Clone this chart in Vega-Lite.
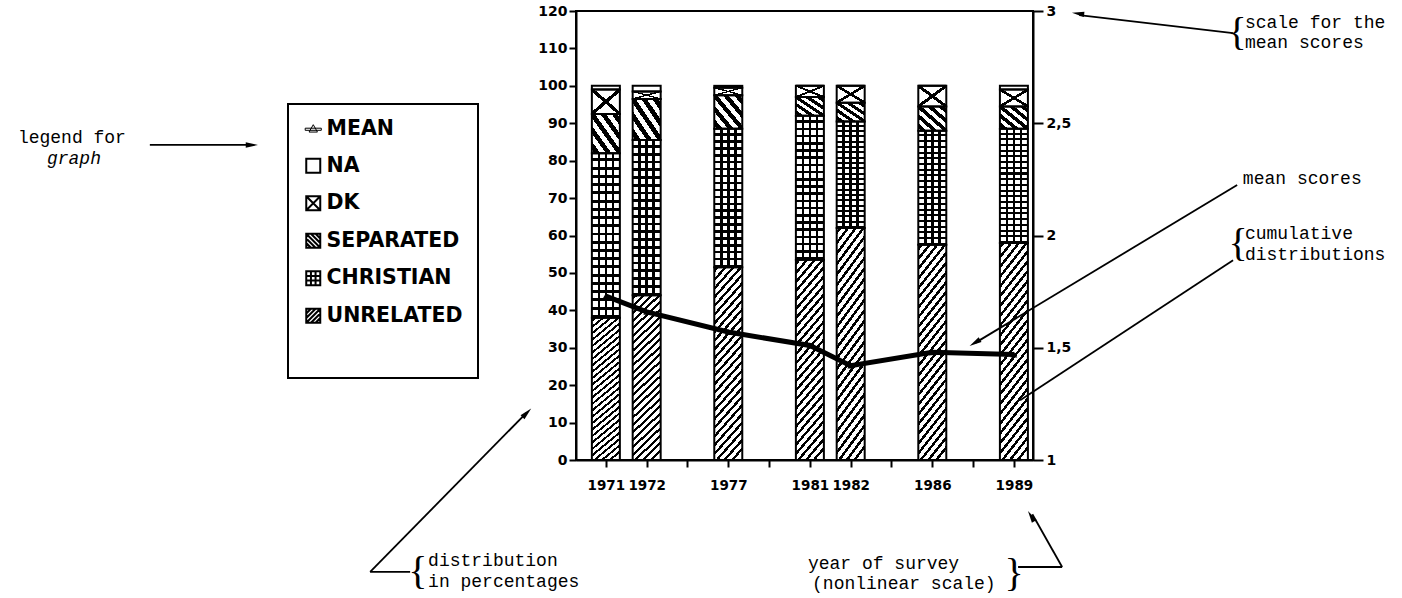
{
  "$schema": "https://vega.github.io/schema/vega-lite/v6.json",
  "width": 457,
  "height": 449,
  "autosize": {"type": "none"},
  "padding": {"left": 576, "top": 11, "right": 369, "bottom": 138},
  "background": "white",
  "config": {"view": {"stroke": "black", "strokeWidth": 2}},
  "datasets": {
    "survey": [
      {"year": "1971", "category": "UNRELATED", "pct": 38},
      {"year": "1971", "category": "CHRISTIAN", "pct": 44},
      {"year": "1971", "category": "SEPARATED", "pct": 10.5},
      {"year": "1971", "category": "DK", "pct": 6.5},
      {"year": "1971", "category": "NA", "pct": 1},
      {"year": "1972", "category": "UNRELATED", "pct": 44},
      {"year": "1972", "category": "CHRISTIAN", "pct": 41.5},
      {"year": "1972", "category": "SEPARATED", "pct": 11},
      {"year": "1972", "category": "DK", "pct": 2},
      {"year": "1972", "category": "NA", "pct": 1.5},
      {"year": "1977", "category": "UNRELATED", "pct": 51.5},
      {"year": "1977", "category": "CHRISTIAN", "pct": 37},
      {"year": "1977", "category": "SEPARATED", "pct": 9},
      {"year": "1977", "category": "DK", "pct": 2},
      {"year": "1977", "category": "NA", "pct": 0.5},
      {"year": "1981", "category": "UNRELATED", "pct": 53.5},
      {"year": "1981", "category": "CHRISTIAN", "pct": 38.5},
      {"year": "1981", "category": "SEPARATED", "pct": 5},
      {"year": "1981", "category": "DK", "pct": 3},
      {"year": "1981", "category": "NA", "pct": 0},
      {"year": "1982", "category": "UNRELATED", "pct": 62},
      {"year": "1982", "category": "CHRISTIAN", "pct": 28.5},
      {"year": "1982", "category": "SEPARATED", "pct": 5},
      {"year": "1982", "category": "DK", "pct": 4.5},
      {"year": "1982", "category": "NA", "pct": 0},
      {"year": "1986", "category": "UNRELATED", "pct": 57.5},
      {"year": "1986", "category": "CHRISTIAN", "pct": 30.5},
      {"year": "1986", "category": "SEPARATED", "pct": 6.5},
      {"year": "1986", "category": "DK", "pct": 5.5},
      {"year": "1986", "category": "NA", "pct": 0},
      {"year": "1989", "category": "UNRELATED", "pct": 58},
      {"year": "1989", "category": "CHRISTIAN", "pct": 30.5},
      {"year": "1989", "category": "SEPARATED", "pct": 6},
      {"year": "1989", "category": "DK", "pct": 4.5},
      {"year": "1989", "category": "NA", "pct": 1}
    ],
    "means": [
      {"year": "1971", "mean": 1.73},
      {"year": "1972", "mean": 1.66},
      {"year": "1977", "mean": 1.57},
      {"year": "1981", "mean": 1.51},
      {"year": "1982", "mean": 1.42},
      {"year": "1986", "mean": 1.48},
      {"year": "1989", "mean": 1.47}
    ],
    "notesLeft": [
      {"text": "scale for the", "s": 15.66, "v": 116.9},
      {"text": "mean scores", "s": 15.66, "v": 111.5},
      {"text": "mean scores", "s": 15.61, "v": 75.1},
      {"text": "cumulative", "s": 15.66, "v": 60.3},
      {"text": "distributions", "s": 15.66, "v": 54.9},
      {"text": "distribution", "s": -4.36, "v": -27.1},
      {"text": "in percentages", "s": -4.36, "v": -32.5},
      {"text": "year of survey", "s": 4.95, "v": -27.7},
      {"text": "(nonlinear scale)", "s": 5.05, "v": -33.1}
    ],
    "notesCenter": [
      {"text": "legend for", "s": -13.09, "v": 86.05}
    ],
    "notesItalic": [
      {"text": "graph", "s": -13.04, "v": 80.4}
    ],
    "braces": [
      {"text": "{", "s": 15.47, "v": 114.1},
      {"text": "{", "s": 15.49, "v": 57.6},
      {"text": "{", "s": -4.61, "v": -29.9},
      {"text": "}", "s": 10.0, "v": -30.4}
    ],
    "arrows": [
      {"s": -11.18, "v": 84.2, "s2": -8.7, "v2": 84.2},
      {"s": 15.37, "v": 114.1, "s2": 11.6, "v2": 118.9},
      {"s": 15.47, "v": 73.5, "s2": 9.05, "v2": 31.3},
      {"s": 15.37, "v": 53.4, "s2": 10.15, "v2": 16.0},
      {"s": -4.8, "v": -29.9, "s2": -5.78, "v2": -29.9},
      {"s": -5.78, "v": -29.9, "s2": -1.95, "v2": 12.6},
      {"s": 10.1, "v": -28.6, "s2": 11.18, "v2": -28.6},
      {"s": 11.18, "v": -28.6, "s2": 10.45, "v2": -14.5}
    ]
  },
  "layer": [
    {
      "data": {"name": "survey"},
      "transform": [{"stack": "pct", "groupby": ["year"], "as": ["y0", "y1"]}],
      "encoding": {
        "x": {
          "field": "year", "type": "ordinal",
          "scale": {"type": "point", "domain": ["1971", "1972", "-a", "1977", "-b", "1981", "1982", "-c", "1986", "-d", "1989"], "padding": 0.6, "align": 0.61},
          "axis": {"title": null, "labelExpr": "length(datum.label) === 4 ? datum.label : ''", "labelAngle": 0, "labelOverlap": false, "labelFont": "DejaVu Sans", "labelFontWeight": "bold", "labelFontSize": 13.5, "labelColor": "black", "labelPadding": 11, "tickSize": 7, "tickWidth": 2, "tickColor": "black", "domainColor": "black", "domainWidth": 2, "grid": false}
        },
        "y": {
          "field": "y0", "type": "quantitative",
          "scale": {"domain": [0, 120], "nice": false},
          "axis": {"title": null, "values": [0, 10, 20, 30, 40, 50, 60, 70, 80, 90, 100, 110, 120], "labelFont": "DejaVu Sans", "labelFontWeight": "bold", "labelFontSize": 14, "labelColor": "black", "labelPadding": 2, "tickSize": 7, "tickWidth": 2, "tickColor": "black", "domainColor": "black", "domainWidth": 2, "grid": false}
        },
        "y2": {"field": "y1"}
      },
      "layer": [
        {
          "mark": {"type": "bar", "size": 28},
          "encoding": {
            "fill": {
              "field": "category", "type": "nominal",
              "scale": {"domain": ["MEAN", "NA", "DK", "SEPARATED", "CHRISTIAN", "UNRELATED"], "range": ["white", "white", "white", "white", "white", "white"]},
              "legend": {
                "orient": "none", "legendX": -288, "legendY": 93,
                "title": "\u00a0\u00a0\u00a0\u00a0\u00a0\u00a0\u00a0\u00a0\u00a0\u00a0\u00a0\u00a0\u00a0\u00a0\u00a0\u00a0\u00a0\u00a0\u00a0\u00a0",
                "titleOrient": "bottom", "titleFont": "DejaVu Sans", "titleFontSize": 26, "titlePadding": 10,
                "padding": 15, "strokeColor": "black", "fillColor": "white",
                "symbolSize": 196, "symbolStrokeColor": "black", "symbolStrokeWidth": 2, "symbolType": "square",
                "labelFont": "DejaVu Sans", "labelFontWeight": "bold", "labelFontSize": 20.5, "labelColor": "black", "labelOffset": 3, "labelLimit": 300,
                "rowPadding": 14.5,
                "encode": {
                  "legend": {"update": {"strokeWidth": {"value": 2}}},
                  "symbols": {"update": {
                    "shape": {"signal": "datum.value === 'MEAN' ? 'M-1.15,-0.15H1.15V0.15H-1.15Z M-0.6,0.4L0,-0.65L0.6,0.4Z' : datum.value === 'DK' ? 'M-1,-1H1V1H-1Z M-1,-1L1,1 M-1,1L1,-1' : datum.value === 'SEPARATED' ? 'M-1,-1H1V1H-1Z M-1,-1L1,1 M-1,-0.33L0.33,1 M-1,0.33L-0.33,1 M-0.33,-1L1,0.33 M0.33,-1L1,-0.33' : datum.value === 'CHRISTIAN' ? 'M-1,-1H1V1H-1Z M-0.33,-1V1 M0.33,-1V1 M-1,-0.33H1 M-1,0.33H1' : datum.value === 'UNRELATED' ? 'M-1,-1H1V1H-1Z M-1,1L1,-1 M-1,0.33L0.33,-1 M-1,-0.33L-0.33,-1 M-0.33,1L1,-0.33 M0.33,1L1,0.33' : 'square'"},
                    "fill": {"signal": "datum.value === 'MEAN' ? 'black' : 'white'"},
                    "stroke": {"value": "black"},
                    "strokeWidth": {"signal": "datum.value === 'MEAN' ? 1 : 2"},
                    "opacity": {"value": 1}
                  }}
                }
              }
            }
          }
        },
        {
          "transform": [{"filter": "datum.category === 'UNRELATED'"}],
          "mark": {"type": "bar", "size": 28, "fill": {"gradient": "linear", "x1": 0, "y1": 0, "x2": 0.18, "y2": 1.1, "stops": [
            {"offset": 0, "color": "white"},
            {"offset": 0.01, "color": "white"}, {"offset": 0.01, "color": "black"}, {"offset": 0.026, "color": "black"}, {"offset": 0.026, "color": "white"},
            {"offset": 0.05, "color": "white"}, {"offset": 0.05, "color": "black"}, {"offset": 0.066, "color": "black"}, {"offset": 0.066, "color": "white"},
            {"offset": 0.09, "color": "white"}, {"offset": 0.09, "color": "black"}, {"offset": 0.106, "color": "black"}, {"offset": 0.106, "color": "white"},
            {"offset": 0.13, "color": "white"}, {"offset": 0.13, "color": "black"}, {"offset": 0.146, "color": "black"}, {"offset": 0.146, "color": "white"},
            {"offset": 0.17, "color": "white"}, {"offset": 0.17, "color": "black"}, {"offset": 0.186, "color": "black"}, {"offset": 0.186, "color": "white"},
            {"offset": 0.21, "color": "white"}, {"offset": 0.21, "color": "black"}, {"offset": 0.226, "color": "black"}, {"offset": 0.226, "color": "white"},
            {"offset": 0.25, "color": "white"}, {"offset": 0.25, "color": "black"}, {"offset": 0.266, "color": "black"}, {"offset": 0.266, "color": "white"},
            {"offset": 0.29, "color": "white"}, {"offset": 0.29, "color": "black"}, {"offset": 0.306, "color": "black"}, {"offset": 0.306, "color": "white"},
            {"offset": 0.33, "color": "white"}, {"offset": 0.33, "color": "black"}, {"offset": 0.346, "color": "black"}, {"offset": 0.346, "color": "white"},
            {"offset": 0.37, "color": "white"}, {"offset": 0.37, "color": "black"}, {"offset": 0.386, "color": "black"}, {"offset": 0.386, "color": "white"},
            {"offset": 0.41, "color": "white"}, {"offset": 0.41, "color": "black"}, {"offset": 0.426, "color": "black"}, {"offset": 0.426, "color": "white"},
            {"offset": 0.45, "color": "white"}, {"offset": 0.45, "color": "black"}, {"offset": 0.466, "color": "black"}, {"offset": 0.466, "color": "white"},
            {"offset": 0.49, "color": "white"}, {"offset": 0.49, "color": "black"}, {"offset": 0.506, "color": "black"}, {"offset": 0.506, "color": "white"},
            {"offset": 0.53, "color": "white"}, {"offset": 0.53, "color": "black"}, {"offset": 0.546, "color": "black"}, {"offset": 0.546, "color": "white"},
            {"offset": 0.57, "color": "white"}, {"offset": 0.57, "color": "black"}, {"offset": 0.586, "color": "black"}, {"offset": 0.586, "color": "white"},
            {"offset": 0.61, "color": "white"}, {"offset": 0.61, "color": "black"}, {"offset": 0.626, "color": "black"}, {"offset": 0.626, "color": "white"},
            {"offset": 0.65, "color": "white"}, {"offset": 0.65, "color": "black"}, {"offset": 0.666, "color": "black"}, {"offset": 0.666, "color": "white"},
            {"offset": 0.69, "color": "white"}, {"offset": 0.69, "color": "black"}, {"offset": 0.706, "color": "black"}, {"offset": 0.706, "color": "white"},
            {"offset": 0.73, "color": "white"}, {"offset": 0.73, "color": "black"}, {"offset": 0.746, "color": "black"}, {"offset": 0.746, "color": "white"},
            {"offset": 0.77, "color": "white"}, {"offset": 0.77, "color": "black"}, {"offset": 0.786, "color": "black"}, {"offset": 0.786, "color": "white"},
            {"offset": 0.81, "color": "white"}, {"offset": 0.81, "color": "black"}, {"offset": 0.826, "color": "black"}, {"offset": 0.826, "color": "white"},
            {"offset": 0.85, "color": "white"}, {"offset": 0.85, "color": "black"}, {"offset": 0.866, "color": "black"}, {"offset": 0.866, "color": "white"},
            {"offset": 0.89, "color": "white"}, {"offset": 0.89, "color": "black"}, {"offset": 0.906, "color": "black"}, {"offset": 0.906, "color": "white"},
            {"offset": 0.93, "color": "white"}, {"offset": 0.93, "color": "black"}, {"offset": 0.946, "color": "black"}, {"offset": 0.946, "color": "white"},
            {"offset": 0.97, "color": "white"}, {"offset": 0.97, "color": "black"}, {"offset": 0.986, "color": "black"}, {"offset": 0.986, "color": "white"},
            {"offset": 1, "color": "white"}
          ]}}
        },
        {
          "transform": [{"filter": "datum.category === 'CHRISTIAN'"}],
          "mark": {"type": "bar", "size": 28, "fill": {"gradient": "linear", "x1": 0, "y1": 0, "x2": 0, "y2": 1, "stops": [
            {"offset": 0, "color": "white"},
            {"offset": 0.032, "color": "white"}, {"offset": 0.032, "color": "black"}, {"offset": 0.05, "color": "black"}, {"offset": 0.05, "color": "white"},
            {"offset": 0.082, "color": "white"}, {"offset": 0.082, "color": "black"}, {"offset": 0.1, "color": "black"}, {"offset": 0.1, "color": "white"},
            {"offset": 0.132, "color": "white"}, {"offset": 0.132, "color": "black"}, {"offset": 0.15, "color": "black"}, {"offset": 0.15, "color": "white"},
            {"offset": 0.182, "color": "white"}, {"offset": 0.182, "color": "black"}, {"offset": 0.2, "color": "black"}, {"offset": 0.2, "color": "white"},
            {"offset": 0.232, "color": "white"}, {"offset": 0.232, "color": "black"}, {"offset": 0.25, "color": "black"}, {"offset": 0.25, "color": "white"},
            {"offset": 0.282, "color": "white"}, {"offset": 0.282, "color": "black"}, {"offset": 0.3, "color": "black"}, {"offset": 0.3, "color": "white"},
            {"offset": 0.332, "color": "white"}, {"offset": 0.332, "color": "black"}, {"offset": 0.35, "color": "black"}, {"offset": 0.35, "color": "white"},
            {"offset": 0.382, "color": "white"}, {"offset": 0.382, "color": "black"}, {"offset": 0.4, "color": "black"}, {"offset": 0.4, "color": "white"},
            {"offset": 0.432, "color": "white"}, {"offset": 0.432, "color": "black"}, {"offset": 0.45, "color": "black"}, {"offset": 0.45, "color": "white"},
            {"offset": 0.482, "color": "white"}, {"offset": 0.482, "color": "black"}, {"offset": 0.5, "color": "black"}, {"offset": 0.5, "color": "white"},
            {"offset": 0.532, "color": "white"}, {"offset": 0.532, "color": "black"}, {"offset": 0.55, "color": "black"}, {"offset": 0.55, "color": "white"},
            {"offset": 0.582, "color": "white"}, {"offset": 0.582, "color": "black"}, {"offset": 0.6, "color": "black"}, {"offset": 0.6, "color": "white"},
            {"offset": 0.632, "color": "white"}, {"offset": 0.632, "color": "black"}, {"offset": 0.65, "color": "black"}, {"offset": 0.65, "color": "white"},
            {"offset": 0.682, "color": "white"}, {"offset": 0.682, "color": "black"}, {"offset": 0.7, "color": "black"}, {"offset": 0.7, "color": "white"},
            {"offset": 0.732, "color": "white"}, {"offset": 0.732, "color": "black"}, {"offset": 0.75, "color": "black"}, {"offset": 0.75, "color": "white"},
            {"offset": 0.782, "color": "white"}, {"offset": 0.782, "color": "black"}, {"offset": 0.8, "color": "black"}, {"offset": 0.8, "color": "white"},
            {"offset": 0.832, "color": "white"}, {"offset": 0.832, "color": "black"}, {"offset": 0.85, "color": "black"}, {"offset": 0.85, "color": "white"},
            {"offset": 0.882, "color": "white"}, {"offset": 0.882, "color": "black"}, {"offset": 0.9, "color": "black"}, {"offset": 0.9, "color": "white"},
            {"offset": 0.932, "color": "white"}, {"offset": 0.932, "color": "black"}, {"offset": 0.95, "color": "black"}, {"offset": 0.95, "color": "white"},
            {"offset": 0.982, "color": "white"}, {"offset": 0.982, "color": "black"}, {"offset": 1, "color": "black"}
          ]}}
        },
        {
          "transform": [{"filter": "datum.category === 'CHRISTIAN'"}],
          "mark": {"type": "bar", "size": 28, "fill": {"gradient": "linear", "x1": 0, "y1": 0, "x2": 1, "y2": 0, "stops": [
            {"offset": 0, "color": "transparent"},
            {"offset": 0.205, "color": "transparent"}, {"offset": 0.205, "color": "black"}, {"offset": 0.295, "color": "black"}, {"offset": 0.295, "color": "transparent"},
            {"offset": 0.455, "color": "transparent"}, {"offset": 0.455, "color": "black"}, {"offset": 0.545, "color": "black"}, {"offset": 0.545, "color": "transparent"},
            {"offset": 0.705, "color": "transparent"}, {"offset": 0.705, "color": "black"}, {"offset": 0.795, "color": "black"}, {"offset": 0.795, "color": "transparent"},
            {"offset": 1, "color": "transparent"}
          ]}}
        },
        {
          "transform": [{"filter": "datum.category === 'SEPARATED'"}],
          "mark": {"type": "bar", "size": 28, "fill": {"gradient": "linear", "x1": 0, "y1": 1, "x2": 1, "y2": 0, "stops": [
            {"offset": 0, "color": "white"},
            {"offset": 0.05, "color": "white"}, {"offset": 0.05, "color": "black"}, {"offset": 0.15, "color": "black"}, {"offset": 0.15, "color": "white"},
            {"offset": 0.25, "color": "white"}, {"offset": 0.25, "color": "black"}, {"offset": 0.35, "color": "black"}, {"offset": 0.35, "color": "white"},
            {"offset": 0.45, "color": "white"}, {"offset": 0.45, "color": "black"}, {"offset": 0.55, "color": "black"}, {"offset": 0.55, "color": "white"},
            {"offset": 0.65, "color": "white"}, {"offset": 0.65, "color": "black"}, {"offset": 0.75, "color": "black"}, {"offset": 0.75, "color": "white"},
            {"offset": 0.85, "color": "white"}, {"offset": 0.85, "color": "black"}, {"offset": 0.95, "color": "black"}, {"offset": 0.95, "color": "white"},
            {"offset": 1, "color": "white"}
          ]}}
        },
        {
          "transform": [{"filter": "datum.category === 'DK'"}],
          "mark": {"type": "bar", "size": 28, "fill": {"gradient": "linear", "x1": 0, "y1": 0, "x2": 1, "y2": 1, "stops": [
            {"offset": 0, "color": "white"},
            {"offset": 0.455, "color": "white"}, {"offset": 0.455, "color": "black"}, {"offset": 0.545, "color": "black"}, {"offset": 0.545, "color": "white"},
            {"offset": 1, "color": "white"}
          ]}}
        },
        {
          "transform": [{"filter": "datum.category === 'DK'"}],
          "mark": {"type": "bar", "size": 28, "fill": {"gradient": "linear", "x1": 1, "y1": 0, "x2": 0, "y2": 1, "stops": [
            {"offset": 0, "color": "transparent"},
            {"offset": 0.455, "color": "transparent"}, {"offset": 0.455, "color": "black"}, {"offset": 0.545, "color": "black"}, {"offset": 0.545, "color": "transparent"},
            {"offset": 1, "color": "transparent"}
          ]}}
        },
        {
          "mark": {"type": "bar", "size": 28, "filled": false, "color": "black", "strokeWidth": 2}
        }
      ]
    },
    {
      "data": {"name": "means"},
      "encoding": {
        "x": {
          "field": "year", "type": "ordinal",
          "scale": {"type": "point", "domain": ["1971", "1972", "-a", "1977", "-b", "1981", "1982", "-c", "1986", "-d", "1989"], "padding": 0.6, "align": 0.61},
          "axis": null
        },
        "y": {
          "field": "mean", "type": "quantitative",
          "scale": {"domain": [1, 3], "nice": false, "zero": false},
          "axis": {"orient": "right", "title": null, "values": [1, 1.5, 2, 2.5, 3], "format": "~g", "labelExpr": "replace(datum.label, '.', ',')", "labelFont": "DejaVu Sans", "labelFontWeight": "bold", "labelFontSize": 14, "labelColor": "black", "labelPadding": 3, "tickSize": 10, "tickWidth": 2, "tickColor": "black", "domainColor": "black", "domainWidth": 2, "grid": false}
        }
      },
      "layer": [
        {"mark": {"type": "line", "color": "black", "strokeWidth": 5}},
        {"mark": {"type": "point", "shape": "triangle-up", "filled": true, "color": "black", "size": 45, "opacity": 1}}
      ]
    },
    {
      "encoding": {
        "x": {"field": "s", "type": "quantitative", "scale": {"domain": [-0.735, 10.466], "nice": false, "zero": false}, "axis": null},
        "y": {"field": "v", "type": "quantitative", "scale": {"domain": [0, 120], "nice": false, "zero": false}, "axis": null}
      },
      "layer": [
        {
          "data": {"name": "arrows"},
          "mark": {"type": "rule", "color": "black", "strokeWidth": 1.8},
          "encoding": {"x2": {"field": "s2"}, "y2": {"field": "v2"}}
        },
        {
          "data": {"name": "notesLeft"},
          "mark": {"type": "text", "align": "left", "baseline": "middle", "font": "Liberation Mono", "fontSize": 18, "color": "black"},
          "encoding": {"text": {"field": "text"}}
        },
        {
          "data": {"name": "notesCenter"},
          "mark": {"type": "text", "align": "center", "baseline": "middle", "font": "Liberation Mono", "fontSize": 18, "color": "black"},
          "encoding": {"text": {"field": "text"}}
        },
        {
          "data": {"name": "notesItalic"},
          "mark": {"type": "text", "align": "center", "baseline": "middle", "font": "Liberation Mono", "fontStyle": "italic", "fontSize": 18, "color": "black"},
          "encoding": {"text": {"field": "text"}}
        },
        {
          "data": {"name": "braces"},
          "mark": {"type": "text", "align": "center", "baseline": "middle", "font": "Liberation Serif", "fontSize": 40, "color": "black"},
          "encoding": {"text": {"field": "text"}}
        },
        {
          "data": {"values": [{"s": -8.68, "v": 84.2}]},
          "mark": {"type": "point", "shape": "M0,-1L0.45,1L-0.45,1Z", "filled": true, "color": "black", "opacity": 1, "size": 150, "angle": 90}
        },
        {
          "data": {"values": [{"s": 11.57, "v": 119.3}]},
          "mark": {"type": "point", "shape": "M0,-1L0.45,1L-0.45,1Z", "filled": true, "color": "black", "opacity": 1, "size": 150, "angle": 277}
        },
        {
          "data": {"values": [{"s": 9.04, "v": 31.3}]},
          "mark": {"type": "point", "shape": "M0,-1L0.45,1L-0.45,1Z", "filled": true, "color": "black", "opacity": 1, "size": 150, "angle": 239}
        },
        {
          "data": {"values": [{"s": -1.94, "v": 12.6}]},
          "mark": {"type": "point", "shape": "M0,-1L0.45,1L-0.45,1Z", "filled": true, "color": "black", "opacity": 1, "size": 150, "angle": 45}
        },
        {
          "data": {"values": [{"s": 10.42, "v": -15.0}]},
          "mark": {"type": "point", "shape": "M0,-1L0.45,1L-0.45,1Z", "filled": true, "color": "black", "opacity": 1, "size": 150, "angle": 329}
        }
      ]
    }
  ],
  "resolve": {"scale": {"x": "independent", "y": "independent"}}
}
